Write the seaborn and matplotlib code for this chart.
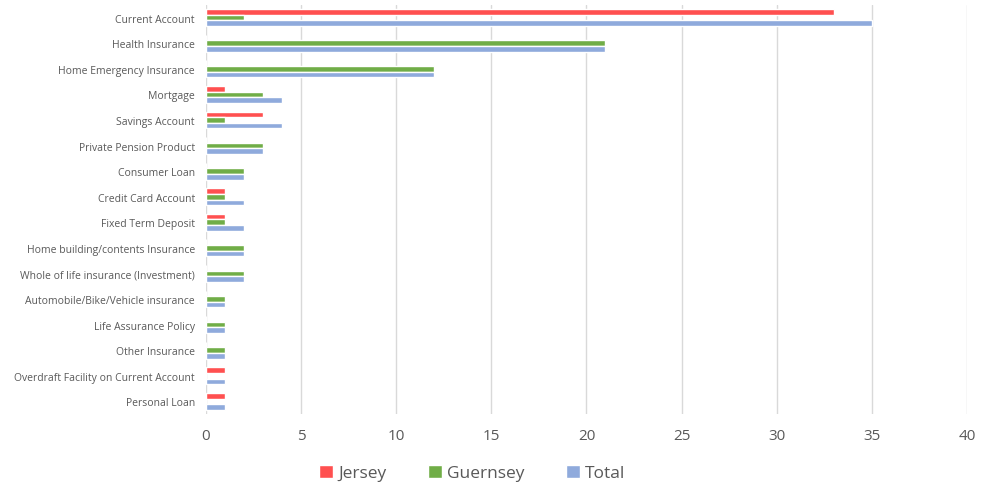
import matplotlib
matplotlib.use("Agg")
import matplotlib.pyplot as plt
import seaborn as sns
import pandas as pd

categories = [
    "Current Account", "Health Insurance", "Home Emergency Insurance", "Mortgage",
    "Savings Account", "Private Pension Product", "Consumer Loan", "Credit Card Account",
    "Fixed Term Deposit", "Home building/contents Insurance",
    "Whole of life insurance (Investment)", "Automobile/Bike/Vehicle insurance",
    "Life Assurance Policy", "Other Insurance", "Overdraft Facility on Current Account",
    "Personal Loan",
]
jersey = [33, 0, 0, 1, 3, 0, 0, 1, 1, 0, 0, 0, 0, 0, 1, 1]
guernsey = [2, 21, 12, 3, 1, 3, 2, 1, 1, 2, 2, 1, 1, 1, 0, 0]
total = [35, 21, 12, 4, 4, 3, 2, 2, 2, 2, 2, 1, 1, 1, 1, 1]
series_names = ["Jersey", "Guernsey", "Total"]
colors = ["#FF5050", "#70AD47", "#8FAADC"]
x_ticks = [0, 5, 10, 15, 20, 25, 30, 35, 40]

rows = []
for name, vals in zip(series_names, [jersey, guernsey, total]):
    for c, v in zip(categories, vals):
        rows.append({"Category": c, "Series": name, "Value": v})
df = pd.DataFrame(rows)

sns.set_style("white")
plt.rcParams["font.family"] = ["Open Sans", "DejaVu Sans"]

fig = plt.figure(figsize=(9.83, 4.85), dpi=100)
ax = fig.add_axes([0.2096, 0.144, 0.774, 0.844])
sns.barplot(data=df, y="Category", x="Value", hue="Series", order=categories,
            hue_order=series_names, palette=colors, orient="h", width=0.66,
            saturation=1, ax=ax, legend=True)

ax.set_xlim(0, 40)
ax.set_xticks(x_ticks)
ax.set_ylim(15.5, -0.5)
ax.xaxis.grid(True, color="#D9D9D9", linewidth=1)
ax.set_axisbelow(True)
for s in ax.spines.values():
    s.set_visible(False)
ax.set_xlabel("")
ax.set_ylabel("")
ax.tick_params(axis="x", labelsize=11, colors="#595959", length=0, pad=10)
ax.tick_params(axis="y", labelsize=7.5, colors="#595959", length=0, pad=8)

handles, labels = ax.get_legend_handles_labels()
ax.legend(handles, labels, loc="upper center", bbox_to_anchor=(0.35, -0.085),
          ncol=3, frameon=False, fontsize=12.5, handlelength=0.8, handleheight=0.8,
          columnspacing=2.4, handletextpad=0.3, labelcolor="#595959")

fig.savefig("out.png", dpi=100)
